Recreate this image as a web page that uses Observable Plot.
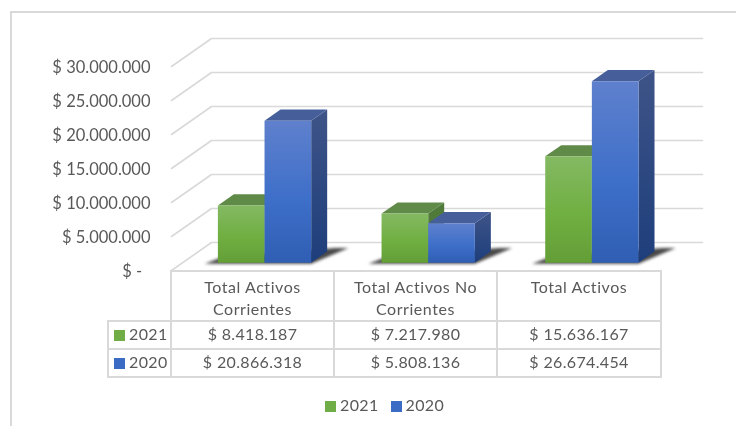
<!DOCTYPE html>
<html><head><meta charset="utf-8">
<script src="https://cdn.jsdelivr.net/npm/d3@7"></script>
<script src="https://cdn.jsdelivr.net/npm/@observablehq/plot@0.6"></script>
<style>
html,body{margin:0;padding:0;background:#fff}
#chart{position:relative;width:736px;height:426px;overflow:hidden;font-family:Lato,sans-serif;color:#595959;filter:blur(.3px)}
#frame{position:absolute;left:10px;top:11px;width:800px;height:500px;border-left:2px solid #d9d9d9;border-top:2px solid #d9d9d9}
#plot{position:absolute;left:0;top:0}
table{position:absolute;left:107px;top:270px;width:553px;table-layout:fixed;border-collapse:collapse;font-size:16px;letter-spacing:.35px;text-align:center}
td{border:2px solid #d9d9d9;padding:0;line-height:22px}
td.blank{border:none}
tr.head td{height:49px;vertical-align:top;padding:4px 14px 0;box-sizing:border-box;letter-spacing:.55px}
tr.row td{height:26px;padding-bottom:2px;box-sizing:border-box}
tr.row{height:28px}
td.key{white-space:nowrap;text-align:left;padding-left:5px}
.sw{display:inline-block;width:11px;height:11px;margin-right:4px;vertical-align:-1px}
#legend{position:absolute;left:325px;top:394px;font-size:16px;letter-spacing:.35px;line-height:22px;white-space:nowrap}
#legend span.it{margin-right:12px}
</style></head>
<body>
<div id="chart"><div id="frame"></div><div id="plot"></div><div id="tbl"></div><div id="legend"></div></div>
<script>
const categories = ["Total Activos Corrientes", "Total Activos No Corrientes", "Total Activos"];
const values2021 = [8418187, 7217980, 15636167];
const values2020 = [20866318, 5808136, 26674454];
const seriesNames = ["2021", "2020"];
const yTicks = [0, 5000000, 10000000, 15000000, 20000000, 25000000, 30000000];

const locale = d3.formatLocale({decimal: ",", thousands: ".", grouping: [3], currency: ["$ ", ""]});
const money = locale.format("$,.0f");
const tick = v => v === 0 ? "$ -\u00a0\u00a0" : money(v);

const depthX = 40 / (491 / 3);          // wall depth in category units
const depthY = 28 * 30000000 / 204;     // wall depth in value units
const pt = (x, y, d) => ({x: x + d * depthX, y: y + d * depthY});
const poly = (pts, fill, extra = {}) => Plot.line(pts, {x: "x", y: "y", fill, stroke: "none", ...extra});

const grid = yTicks.map(v => Plot.line([pt(0, v, 0), pt(0, v, 1), pt(3, v, 1)], {
  x: "x", y: "y", stroke: "#d9d9d9", strokeWidth: 1.6
}));

const d0 = 0.28, d1 = 0.68, w = 0.285;
const styles = [
  {front: "url(#gGreen)", top: "#5f8a47", side: "#4f7a39"},
  {front: "url(#gBlue)", top: "#465f9b", side: "url(#gBlueSide)"}
];
const shadows = categories.map((c, i) => {
  const a = i + 0.5 - w, b = i + 0.5 + w;
  return poly([pt(a - 0.08, -150000, d0), pt(b, -150000, d0), pt(b + 0.10, 0, d1 + 0.12), pt(b + 0.02, 0, d1 + 0.12), pt(a, 400000, d0 + 0.1)],
    "#1a1a1a", {fillOpacity: 0.8, imageFilter: "blur(1.6px)"});
});
const bars = categories.flatMap((c, i) => [values2021[i], values2020[i]].flatMap((v, s) => {
  const a = i + 0.5 + (s - 1) * w, b = a + w, st = styles[s];
  return [
    poly([pt(b, 0, d0), pt(b, 0, d1), pt(b, v, d1), pt(b, v, d0)], st.side),
    poly([pt(a, v, d0), pt(b, v, d0), pt(b, v, d1), pt(a, v, d1)], st.top),
    poly([pt(a, 0, d0), pt(b, 0, d0), pt(b, v, d0), pt(a, v, d0)], st.front)
  ];
}));
const defs = () => {
  const s = d3.create("svg:defs");
  const g = (id, stops) => {
    const lg = s.append("linearGradient").attr("id", id).attr("x1", 0).attr("x2", 0).attr("y1", 0).attr("y2", 1);
    stops.forEach(([o, c]) => lg.append("stop").attr("offset", o).attr("stop-color", c));
  };
  g("gGreen", [[0, "#84b963"], [0.55, "#70af41"], [1, "#639e37"]]);
  g("gBlue", [[0, "#5f80cd"], [0.55, "#3e6fc9"], [1, "#2f5eb3"]]);
  g("gBlueSide", [[0, "#3e5488"], [1, "#1e3e7b"]]);
  return s.node();
};

const chart = Plot.plot({
  width: 736, height: 271,
  marginTop: 66, marginBottom: 1, marginLeft: 171, marginRight: 74,
  style: {background: "transparent", overflow: "visible"},
  x: {domain: [0, 3], axis: null},
  y: {domain: [0, 30000000], axis: null},
  marks: [
    defs,
    ...grid,
    ...shadows,
    ...bars,
    Plot.axisY({ticks: yTicks, tickSize: 0, tickPadding: 21, tickFormat: tick, dy: 1.5,
      fontSize: 16.5, fontFamily: "Lato, sans-serif", color: "#595959", fill: "#595959", label: null, style: {letterSpacing: ".35px"}})
  ]
});
document.getElementById("plot").append(chart);

const colors = {"2021": "#70ad47", "2020": "#3a6cc6"};
const sw = n => `<span class="sw" style="background:${colors[n]}"></span>`;
const row = (n, vals) => `<tr class="row"><td class="key">${sw(n)}${n}</td>${vals.map(v => `<td>${money(v)}</td>`).join("")}</tr>`;
document.getElementById("tbl").innerHTML =
  `<table><colgroup><col style="width:63px"><col style="width:163px"><col style="width:163px"><col style="width:164px"></colgroup>
   <tr class="head"><td class="blank"></td>${categories.map(c => `<td>${c}</td>`).join("")}</tr>
   ${row(seriesNames[0], values2021)}${row(seriesNames[1], values2020)}</table>`;
document.getElementById("legend").innerHTML = seriesNames.map(n => `<span class="it">${sw(n)}${n}</span>`).join("");
</script>
</body></html>
